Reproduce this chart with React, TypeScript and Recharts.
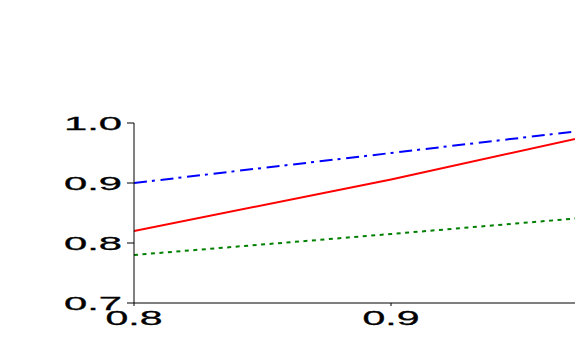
import React from 'react';
import { LineChart, Line, XAxis, YAxis } from 'recharts';

const xValues = [0.8, 0.9, 1.0];
const blueValues = [0.9, 0.95, 1.0];
const redValues = [0.82, 0.906, 1.0];
const greenValues = [0.78, 0.815, 0.851];

const xMajorTicks = [0.8, 0.9];
const xMinorTicks = [0.85, 0.95];
const xTopTicks = [0.8, 0.82, 0.84, 0.86, 0.88, 0.9, 0.92, 0.94, 0.96, 0.98, 1.0];
const yMajorTicks = [0.7, 0.8, 0.9, 1.0];
const yMinorTicks = [0.75, 0.85, 0.95];

const data = xValues.map((x, i) => ({
  x,
  blue: blueValues[i],
  red: redValues[i],
  green: greenValues[i],
}));

const FONT = '"Liberation Sans", Arial, sans-serif';

const XTick = (props: any) => {
  const { x, y, payload } = props;
  const w = 57;
  return (
    <text
      x={x - w / 2}
      y={y}
      dy={16.5}
      textLength={w}
      lengthAdjust="spacingAndGlyphs"
      fontFamily={FONT}
      fontSize={20}
      fill="#000"
      stroke="#000"
      strokeWidth={0.3}
    >
      {Number(payload.value).toFixed(1)}
    </text>
  );
};

const YTick = (props: any) => {
  const { x, y, payload } = props;
  const w = 58;
  return (
    <text
      x={x - w}
      y={y}
      dy={6.8}
      textLength={w}
      lengthAdjust="spacingAndGlyphs"
      fontFamily={FONT}
      fontSize={19}
      fill="#000"
      stroke="#000"
      strokeWidth={0.3}
    >
      {Number(payload.value).toFixed(1)}
    </text>
  );
};

export default function App() {
  return (
    <div
      style={{
        position: 'absolute',
        left: 0,
        top: 0,
        width: 575,
        height: 345,
        overflow: 'hidden',
        background: '#fff',
      }}
    >
      <LineChart
        width={700}
        height={345}
        data={data}
        margin={{ top: 123, right: 52, bottom: 12, left: 74 }}
      >
        <XAxis
          xAxisId="main"
          dataKey="x"
          type="number"
          domain={[0.8, 1.0]}
          ticks={xMajorTicks}
          interval={0}
          height={30}
          tickSize={3}
          tickMargin={2}
          axisLine={{ stroke: '#000', strokeWidth: 1 }}
          tickLine={{ stroke: '#000' }}
          tick={<XTick />}
          allowDataOverflow
        />
        <XAxis
          xAxisId="minor"
          type="number"
          domain={[0.8, 1.0]}
          ticks={xMinorTicks}
          interval={0}
          height={0}
          tickSize={2}
          axisLine={false}
          tickLine={{ stroke: '#000' }}
          tick={false}
          allowDataOverflow
        />
        <XAxis
          xAxisId="top"
          orientation="top"
          mirror
          type="number"
          domain={[0.8, 1.0]}
          ticks={xTopTicks}
          interval={0}
          height={0}
          tickSize={2}
          axisLine={{ stroke: '#888', strokeWidth: 1 }}
          tickLine={{ stroke: '#000' }}
          tick={false}
          allowDataOverflow
        />
        <YAxis
          yAxisId="main"
          type="number"
          domain={[0.7, 1.0]}
          ticks={yMajorTicks}
          interval={0}
          width={60}
          tickSize={7}
          tickMargin={5}
          axisLine={{ stroke: '#000', strokeWidth: 1 }}
          tickLine={{ stroke: '#000' }}
          tick={<YTick />}
          allowDataOverflow
        />
        <YAxis
          yAxisId="minor"
          type="number"
          domain={[0.7, 1.0]}
          ticks={yMinorTicks}
          interval={0}
          width={0}
          tickSize={4}
          axisLine={false}
          tickLine={{ stroke: '#000' }}
          tick={false}
          allowDataOverflow
        />
        <Line
          xAxisId="main"
          yAxisId="main"
          type="linear"
          dataKey="blue"
          stroke="#0000ff"
          strokeWidth={2}
          strokeDasharray="13 5 3 5.7"
          dot={false}
          activeDot={false}
          isAnimationActive={false}
        />
        <Line
          xAxisId="main"
          yAxisId="main"
          type="linear"
          dataKey="red"
          stroke="#ff0000"
          strokeWidth={2}
          dot={false}
          activeDot={false}
          isAnimationActive={false}
        />
        <Line
          xAxisId="main"
          yAxisId="main"
          type="linear"
          dataKey="green"
          stroke="#008000"
          strokeWidth={2}
          strokeDasharray="4 4.5"
          dot={false}
          activeDot={false}
          isAnimationActive={false}
        />
      </LineChart>
    </div>
  );
}
